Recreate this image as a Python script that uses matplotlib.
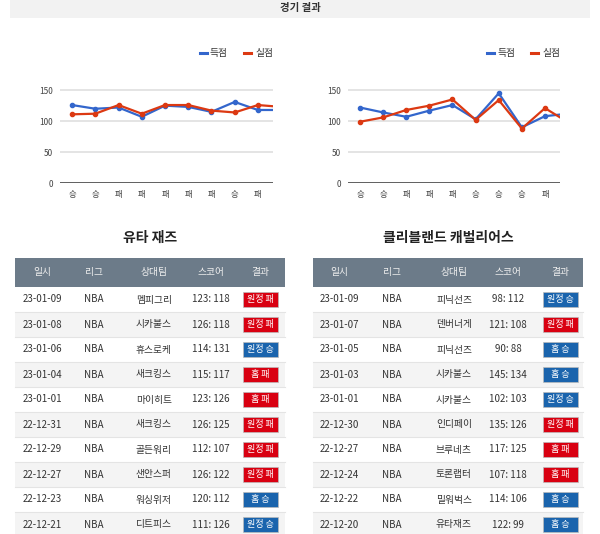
import matplotlib.pyplot as plt
from matplotlib.patches import Rectangle

plt.rcParams['font.family'] = ['Noto Sans CJK KR', 'DejaVu Sans']

W, H = 600, 534

# chart data, oldest game first
utah_marks = ['승', '승', '패', '패', '패', '패', '패', '승', '패', '패']
utah_scored = [126, 120, 122, 107, 125, 123, 115, 131, 118, 118]
utah_allowed = [111, 112, 126, 112, 126, 126, 117, 114, 126, 123]

cle_marks = ['승', '승', '패', '패', '패', '승', '승', '승', '패', '승']
cle_scored = [122, 114, 107, 117, 126, 103, 145, 90, 108, 112]
cle_allowed = [99, 106, 118, 125, 135, 102, 134, 88, 121, 98]

# table data, newest game first
headers = ['일시', '리그', '상대팀', '스코어', '결과']

utah_dates = ['23-01-09', '23-01-08', '23-01-06', '23-01-04', '23-01-01',
              '22-12-31', '22-12-29', '22-12-27', '22-12-23', '22-12-21']
utah_opp = ['멤피그리', '시카불스', '휴스로케', '새크킹스', '마이히트',
            '새크킹스', '골든워리', '샌안스퍼', '워싱위저', '디트피스']
utah_scores = ['123: 118', '126: 118', '114: 131', '115: 117', '123: 126',
               '126: 125', '112: 107', '126: 122', '120: 112', '111: 126']
utah_results = ['원정 패', '원정 패', '원정 승', '홈 패', '홈 패',
                '원정 패', '원정 패', '원정 패', '홈 승', '원정 승']

cle_dates = ['23-01-09', '23-01-07', '23-01-05', '23-01-03', '23-01-01',
             '22-12-30', '22-12-27', '22-12-24', '22-12-22', '22-12-20']
cle_opp = ['피닉선즈', '덴버너게', '피닉선즈', '시카불스', '시카불스',
           '인디페이', '브루네츠', '토론랩터', '밀워벅스', '유타재즈']
cle_scores = ['98: 112', '121: 108', '90: 88', '145: 134', '102: 103',
              '135: 126', '117: 125', '107: 118', '114: 106', '122: 99']
cle_results = ['원정 승', '원정 패', '홈 승', '홈 승', '원정 승',
               '원정 패', '홈 패', '홈 패', '홈 승', '홈 승']

BLUE = '#3366cc'
RED = '#dc3912'

fig = plt.figure(figsize=(W / 100, H / 100), dpi=100)
bg = fig.add_axes([0, 0, 1, 1])
bg.set_xlim(0, W)
bg.set_ylim(H, 0)
bg.axis('off')


def px_axes(x0, y0, x1, y1):
    return fig.add_axes([x0 / W, 1 - y1 / H, (x1 - x0) / W, (y1 - y0) / H])


# top banner
bg.add_patch(Rectangle((10, 0), 580, 18, color='#f2f2f2', lw=0))
bg.text(300, 8, '경기 결과', ha='center', va='center', fontsize=7.5,
        fontweight='bold', color='#333333')


def draw_chart(x0, x1, marks, scored, allowed, leg_x):
    ax = px_axes(x0, 84, x1, 183)
    xs = list(range(len(marks)))
    for v in (50, 100, 150):
        ax.axhline(v, color='#dddddd', lw=1.1, zorder=1)
    ax.axhline(0, color='#444444', lw=1.2, zorder=2)
    ax.plot(xs, scored, color=BLUE, lw=1.6, marker='o', ms=3, zorder=3)
    ax.plot(xs, allowed, color=RED, lw=1.6, marker='o', ms=3, zorder=4)
    ax.set_xticks(xs)
    ax.set_xticklabels(marks, fontsize=6, color='#444444')
    ax.set_yticks([0, 50, 100, 150])
    ax.set_yticklabels(['0', '50', '100', '150'], fontsize=6, color='#444444')
    # the last game runs past the chart's right edge in the original
    ax.set_xlim(-0.52, 8.65)
    ax.set_ylim(0, 160)
    ax.tick_params(length=0, pad=5)
    for s in ax.spines.values():
        s.set_visible(False)
    ax.patch.set_alpha(0)
    # legend
    bg.plot([leg_x, leg_x + 7], [53, 53], color=BLUE, lw=2.2)
    bg.text(leg_x + 10, 53, '득점', va='center', fontsize=7, color='#333333')
    bg.plot([leg_x + 44, leg_x + 51], [53, 53], color=RED, lw=2.2)
    bg.text(leg_x + 55, 53, '실점', va='center', fontsize=7, color='#333333')


draw_chart(60, 273, utah_marks, utah_scored, utah_allowed, 200)
draw_chart(348, 560, cle_marks, cle_scored, cle_allowed, 487)


def draw_table(x0, x1, title, col_x, dates, opp, scores, results):
    bg.text((x0 + x1) / 2, 238, title, ha='center', va='center', fontsize=10,
            fontweight='bold', color='#222222')
    bg.add_patch(Rectangle((x0, 258), x1 - x0, 29, color='#6c7b89', lw=0))
    for cx, h in zip(col_x, headers):
        bg.text(cx, 272.5, h, ha='center', va='center', fontsize=7,
                color='#eeeeee')
    top = 287
    rh = 25
    for i in range(len(dates)):
        y = top + i * rh
        fc = '#ffffff' if i % 2 == 0 else '#f4f4f4'
        bg.add_patch(Rectangle((x0, y), x1 - x0, rh, color=fc, lw=0))
        bg.plot([x0, x1], [y + rh, y + rh], color='#e4e4e4', lw=0.8)
        cy = y + rh / 2
        row = [dates[i], 'NBA', opp[i], scores[i]]
        for cx, t in zip(col_x[:4], row):
            bg.text(cx, cy, t, ha='center', va='center', fontsize=7,
                    color='#333333')
        res = results[i]
        c = '#1a64ad' if '승' in res else '#d90011'
        bg.add_patch(Rectangle((col_x[4] - 17.5, cy - 7.5), 35, 15,
                               facecolor=c, edgecolor='#bbbbbb', lw=0.5))
        bg.text(col_x[4], cy, res, ha='center', va='center', fontsize=6.5,
                color='white')


draw_table(15, 285, '유타 재즈', [42, 94, 154, 211, 260],
           utah_dates, utah_opp, utah_scores, utah_results)
draw_table(313, 583, '클리블랜드 캐벌리어스', [339, 392, 454, 508, 560],
           cle_dates, cle_opp, cle_scores, cle_results)

fig.savefig('out.png', dpi=100)
